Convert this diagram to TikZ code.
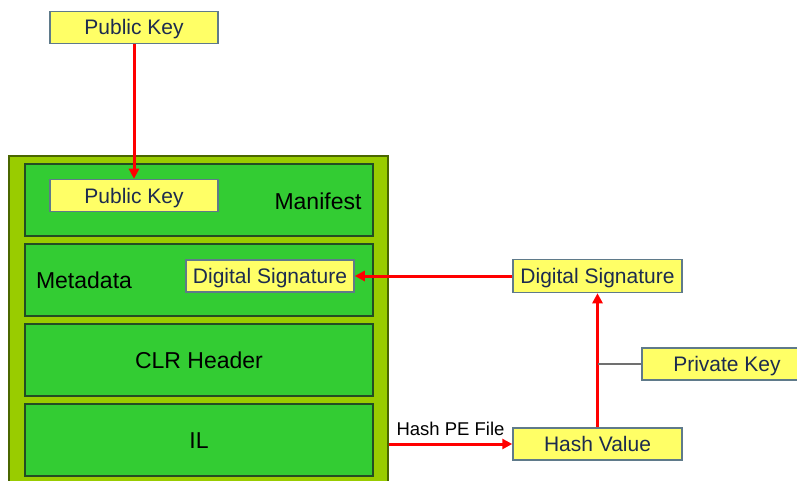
\documentclass[tikz,border=0pt]{standalone}
\usepackage{fontspec}
\setmainfont{Liberation Sans}
\usetikzlibrary{arrows.meta}
\definecolor{ybox}{HTML}{FFFF66}
\definecolor{yborder}{HTML}{5F7A8A}
\definecolor{ytext}{HTML}{1C2B4F}
\definecolor{band}{HTML}{33CC33}
\definecolor{bandborder}{HTML}{234D23}
\definecolor{outerfill}{HTML}{99CC00}
\definecolor{outerborder}{HTML}{4A6600}
\definecolor{arrred}{HTML}{FF0000}
\definecolor{grayline}{HTML}{707070}
\tikzset{
  keybox/.style={draw=yborder, line width=1.5pt, fill=ybox, text=ytext,
    minimum width=168pt, minimum height=32pt, inner sep=0pt,
    text height=15pt, text depth=0pt,
    font=\fontsize{21}{24}\selectfont},
  bandbox/.style={draw=bandborder, line width=1.5pt, fill=band,
    minimum width=348pt, minimum height=72pt, inner sep=0pt},
  bandlabel/.style={text=black, inner sep=0pt, text height=16.5pt, text depth=0pt,
    font=\fontsize{23}{26}\selectfont},
  redarrow/.style={draw=arrred, line width=3pt, -{Triangle[length=10pt,width=10pt]}},
}
\begin{document}
\begin{tikzpicture}[x=1pt,y=-1pt]
\useasboundingbox (0,0) rectangle (797,481);
\clip (0,0) rectangle (797,481);
\fill[white] (0,0) rectangle (797,481);
% outer container
\node[draw=outerborder, line width=1.5pt, fill=outerfill, minimum width=379pt,
  minimum height=344pt, inner sep=0pt] (outer) at (198.5,328) {};
% bands
\node[bandbox] (manifest) at (199,200) {};
\node[bandbox] (metadata) at (199,280) {};
\node[bandbox] (clr) at (199,360) {};
\node[bandbox] (il) at (199,440) {};
\node[bandlabel] (manlab) at (318,201) {Manifest};
\node[bandlabel] (metalab) at (84,280) {Metadata};
\node[bandlabel] (clrlab) at (199,360) {CLR Header};
\node[bandlabel] (illab) at (199,440) {IL};
% inner yellow boxes
\node[keybox] (pkin) at (134,195.5) {Public Key};
\node[keybox] (dsin) at (270,276) {Digital Signature};
% outside boxes
\node[keybox] (pktop) at (134,27.5) {Public Key};
\node[keybox, minimum width=169pt, minimum height=33pt] (dsr) at (597.5,276) {Digital Signature};
\node[keybox, minimum width=169pt] (hash) at (597.5,444) {Hash Value};
\node[keybox, minimum width=170pt] (priv) at (727,364) {Private Key};
% connectors
\draw[redarrow] (pktop.south) -- (pkin.north);
\draw[redarrow] (dsr.west) -- (dsin.east);
\draw[redarrow] (hash.north) -- (dsr.south);
\draw[grayline, line width=2pt] (priv.west) -- (hash.north |- priv.west);
\draw[redarrow] (outer.east |- hash.west) -- node[above=7pt, text=black, inner sep=0pt,
  text height=13.3pt, text depth=0pt,
  font=\fontsize{18.5}{21}\selectfont] (hashlab) {Hash PE File} (hash.west);
\end{tikzpicture}
\end{document}
